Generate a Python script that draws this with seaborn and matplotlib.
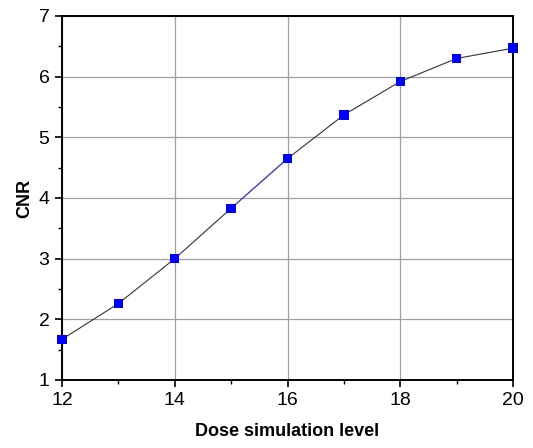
import matplotlib

matplotlib.use("Agg")
import matplotlib.pyplot as plt
import pandas as pd
import seaborn as sns
from matplotlib.ticker import MultipleLocator

dose_level = [12, 13, 14, 15, 16, 17, 18, 19, 20]
cnr = [1.67, 2.26, 3.00, 3.83, 4.65, 5.37, 5.92, 6.30, 6.47]

sns.set_style("white")
plt.rcParams["font.family"] = ["Liberation Sans", "DejaVu Sans"]
plt.rcParams["text.color"] = "black"
plt.rcParams["axes.labelcolor"] = "black"
plt.rcParams["xtick.color"] = "black"
plt.rcParams["ytick.color"] = "black"

df = pd.DataFrame({"dose": dose_level, "cnr": cnr})

fig = plt.figure(figsize=(5.33, 4.48), dpi=100)
ax = fig.add_axes([0.1163, 0.1518, 0.8462, 0.8125])

sns.lineplot(data=df, x="dose", y="cnr", color="#333333", linewidth=0.8, ax=ax, zorder=2)
# one segment is drawn in blue in the original
seg = df[(df["dose"] >= 15) & (df["dose"] <= 16)]
sns.lineplot(data=seg, x="dose", y="cnr", color="#4a4aff", linewidth=0.8, ax=ax, zorder=3)
sns.scatterplot(data=df, x="dose", y="cnr", marker="s", s=45, color="#0000ff",
                edgecolor="none", ax=ax, zorder=4, clip_on=False)

ax.set_xlim(12, 20)
ax.set_ylim(1, 7)
ax.xaxis.set_major_locator(MultipleLocator(2))
ax.xaxis.set_minor_locator(MultipleLocator(1))
ax.yaxis.set_major_locator(MultipleLocator(1))
ax.yaxis.set_minor_locator(MultipleLocator(0.5))
ax.grid(True, which="major", color="#a0a0a0", linewidth=0.9)
ax.set_axisbelow(True)

for side in ["left", "right", "top", "bottom"]:
    ax.spines[side].set_color("black")
    ax.spines[side].set_linewidth(1.4)

ax.tick_params(which="major", direction="out", length=5, width=1.2, labelsize=14,
               bottom=True, left=True, color="black", pad=4)
ax.tick_params(which="minor", direction="out", length=3, width=1.0,
               bottom=True, left=True, color="black")

ax.set_xlabel("Dose simulation level", fontsize=13, fontweight="bold", labelpad=10)
ax.set_ylabel("CNR", fontsize=13, fontweight="bold", labelpad=4)

fig.savefig("out.png", dpi=100)
